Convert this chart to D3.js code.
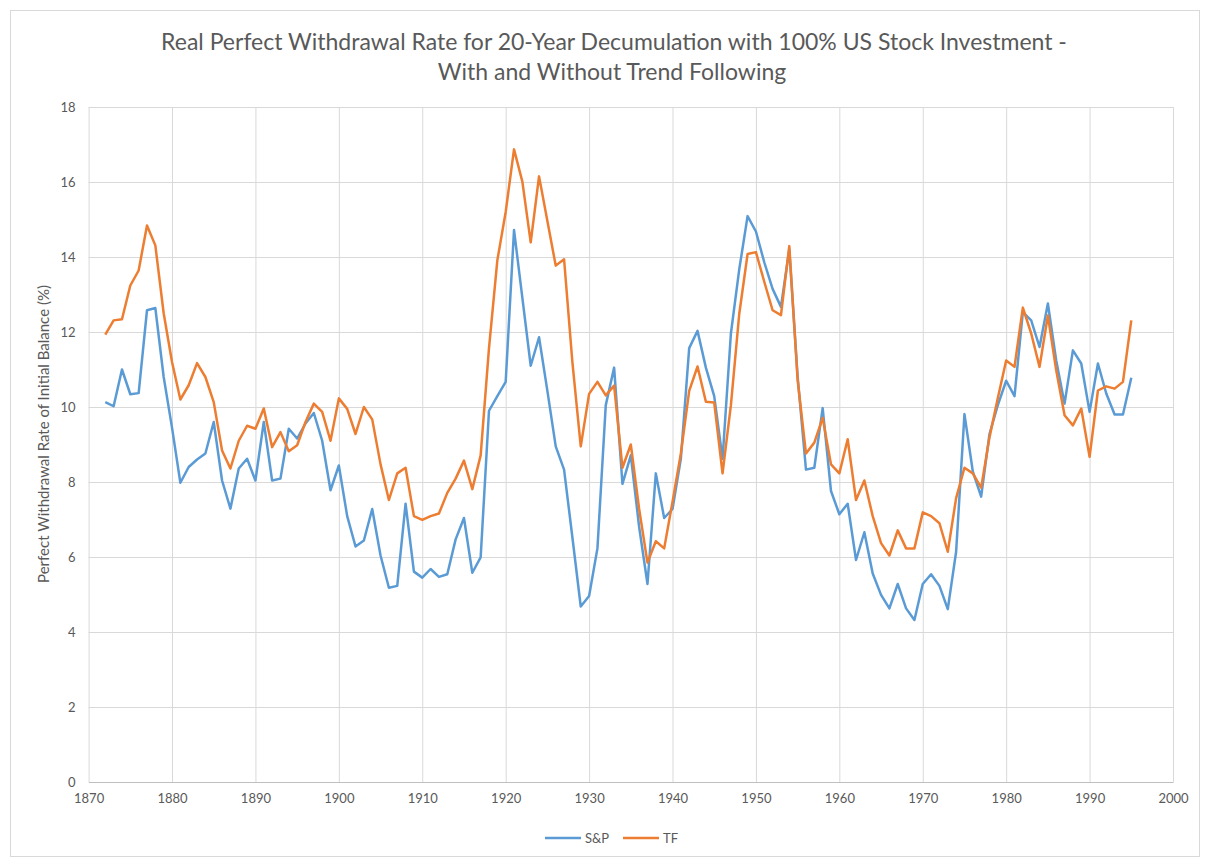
<!DOCTYPE html>
<html>
<head>
<meta charset="utf-8">
<script src="https://cdn.jsdelivr.net/npm/d3@7"></script>
<style>
  body { margin: 0; background: #fff; }
  text { font-family: Lato, "Open Sans", sans-serif; fill: #595959; }
</style>
</head>
<body>
<div id="chart"></div>
<script>
const firstYear = 1872;

// S&P, 1872..1995
const spValues = [
  10.13, 10.02, 11.0, 10.34, 10.37, 12.58, 12.64, 10.8, 9.45, 7.98,
  8.4, 8.6, 8.76, 9.6, 8.04, 7.29, 8.36, 8.62, 8.04, 9.6,
  8.04, 8.09, 9.42, 9.16, 9.56, 9.84, 9.1, 7.78, 8.44, 7.09,
  6.28, 6.44, 7.28, 6.04, 5.18, 5.23, 7.42, 5.61, 5.45, 5.68,
  5.47, 5.54, 6.47, 7.04, 5.58, 5.99, 9.9, 10.29, 10.67, 14.72,
  12.91, 11.1, 11.86, 10.43, 8.95, 8.33, 6.52, 4.68, 4.96, 6.23,
  10.05, 11.05, 7.95, 8.71, 6.8, 5.28, 8.23, 7.04, 7.28, 8.62,
  11.57, 12.03, 11.05, 10.29, 8.62, 11.96, 13.67, 15.09, 14.68, 13.86,
  13.15, 12.67, 14.2, 10.81, 8.33, 8.38, 9.97, 7.76, 7.14, 7.42,
  5.92, 6.66, 5.56, 4.99, 4.63, 5.28, 4.63, 4.32, 5.28, 5.54,
  5.23, 4.61, 6.14, 9.81, 8.28, 7.61, 9.28, 10.05, 10.7, 10.29,
  12.53, 12.31, 11.6, 12.76, 11.24, 10.09, 11.51, 11.16, 9.87, 11.16,
  10.36, 9.8, 9.8, 10.78
];

// TF (trend following), 1872..1995
const tfValues = [
  11.93, 12.31, 12.34, 13.24, 13.64, 14.84, 14.31, 12.5, 11.2, 10.2,
  10.58, 11.17, 10.8, 10.13, 8.84, 8.36, 9.1, 9.5, 9.42, 9.96,
  8.93, 9.33, 8.82, 8.98, 9.6, 10.09, 9.87, 9.1, 10.23, 9.95,
  9.28, 10.0, 9.67, 8.47, 7.52, 8.23, 8.38, 7.09, 6.99, 7.09,
  7.16, 7.71, 8.09, 8.57, 7.81, 8.71, 11.57, 13.91, 15.2, 16.87,
  16.01, 14.39, 16.15, 14.96, 13.77, 13.94, 11.19, 8.95, 10.35, 10.67,
  10.31, 10.57, 8.38, 9.0, 7.28, 5.85, 6.42, 6.23, 7.47, 8.76,
  10.43, 11.08, 10.14, 10.12, 8.23, 10.05, 12.48, 14.08, 14.13, 13.34,
  12.58, 12.45, 14.29, 10.72, 8.76, 9.05, 9.71, 8.47, 8.23, 9.14,
  7.52, 8.04, 7.09, 6.37, 6.04, 6.71, 6.23, 6.23, 7.19, 7.09,
  6.9, 6.14, 7.57, 8.38, 8.23, 7.85, 9.19, 10.24, 11.24, 11.07,
  12.65, 11.96, 11.07, 12.44, 10.98, 9.78, 9.51, 9.96, 8.67, 10.44,
  10.55, 10.49, 10.67, 12.31
];

const xTicks = [1870, 1880, 1890, 1900, 1910, 1920, 1930, 1940, 1950, 1960, 1970, 1980, 1990, 2000];
const yTicks = [0, 2, 4, 6, 8, 10, 12, 14, 16, 18];

const seriesNames = ["S&P", "TF"];
const seriesColors = ["#5B9BD5", "#ED7D31"];

const W = 1211, H = 859;
const margin = { top: 107, right: 38, bottom: 77, left: 88.6 };
const width = W - margin.left - margin.right;
const height = H - margin.top - margin.bottom;

const svg = d3.select("#chart").append("svg")
  .attr("width", W)
  .attr("height", H);

// chart border
svg.append("rect")
  .attr("x", 10.5).attr("y", 10.5)
  .attr("width", 1189).attr("height", 846)
  .attr("fill", "none")
  .attr("stroke", "#d9d9d9");

// title, two lines
svg.append("text")
  .attr("x", 614).attr("y", 50)
  .attr("text-anchor", "middle")
  .style("font-size", "23px")
  .text("Real Perfect Withdrawal Rate for 20-Year Decumulation with 100% US Stock Investment -");
svg.append("text")
  .attr("x", 612).attr("y", 80)
  .attr("text-anchor", "middle")
  .style("font-size", "23px")
  .text("With and Without Trend Following");

const g = svg.append("g")
  .attr("transform", `translate(${margin.left},${margin.top})`);

const x = d3.scaleLinear().domain([1870, 2000]).range([0, width]);
const y = d3.scaleLinear().domain([0, 18]).range([height, 0]);

// gridlines
g.append("g")
  .call(d3.axisLeft(y).tickValues(yTicks).tickSize(-width).tickFormat(""))
  .call(a => a.select(".domain").remove())
  .selectAll("line").attr("stroke", "#d9d9d9");
g.append("g")
  .attr("transform", `translate(0,${height})`)
  .call(d3.axisBottom(x).tickValues(xTicks).tickSize(-height).tickFormat(""))
  .call(a => a.select(".domain").remove())
  .selectAll("line").attr("stroke", "#d9d9d9");

// axes
const yAxis = g.append("g")
  .call(d3.axisLeft(y).tickValues(yTicks).tickSize(0).tickPadding(13));
yAxis.select(".domain").remove();
yAxis.selectAll("text").style("font-size", "13px").style("fill", "#595959");

const xAxis = g.append("g")
  .attr("transform", `translate(0,${height})`)
  .call(d3.axisBottom(x).tickValues(xTicks).tickSize(0).tickPadding(12).tickFormat(d3.format("d")));
xAxis.select(".domain").attr("stroke", "#bfbfbf");
xAxis.selectAll("text").style("font-size", "13px").style("fill", "#595959");

// y axis title
svg.append("text")
  .attr("transform", "translate(49,434) rotate(-90)")
  .attr("text-anchor", "middle")
  .style("font-size", "15px")
  .text("Perfect Withdrawal Rate of Initial Balance (%)");

// lines
const line = d3.line()
  .x((d, i) => x(firstYear + i))
  .y(d => y(d));

[spValues, tfValues].forEach((vals, k) => {
  g.append("path")
    .datum(vals)
    .attr("fill", "none")
    .attr("stroke", seriesColors[k])
    .attr("stroke-width", 2.5)
    .attr("stroke-linejoin", "round")
    .attr("d", line);
});

// legend
const legendX = [545, 623];
seriesNames.forEach((name, k) => {
  const lg = svg.append("g").attr("transform", `translate(${legendX[k]},838)`);
  lg.append("line")
    .attr("x1", 0).attr("x2", 36)
    .attr("stroke", seriesColors[k])
    .attr("stroke-width", 2.5);
  lg.append("text")
    .attr("x", 40).attr("y", 4.5)
    .style("font-size", "13px")
    .text(name);
});
</script>
</body>
</html>
